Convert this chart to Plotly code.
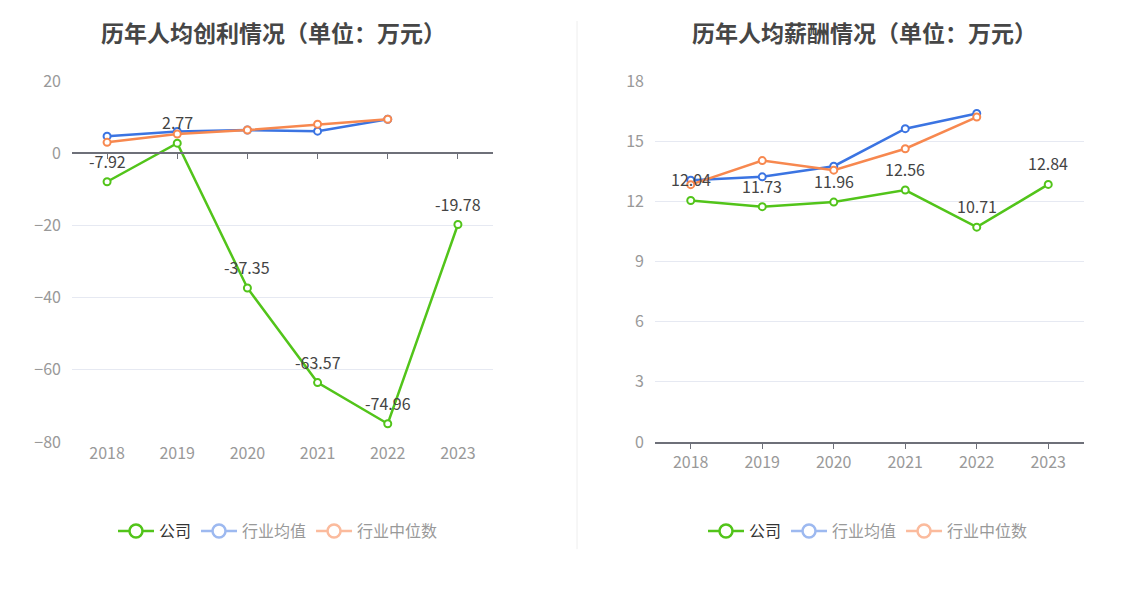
import plotly.graph_objects as go

years = ["2018", "2019", "2020", "2021", "2022", "2023"]

# 历年人均创利 (万元)
profit_company = [-7.92, 2.77, -37.35, -63.57, -74.96, -19.78]
profit_ind_avg = [4.7, 6.0, 6.4, 6.1, 9.4, None]
profit_ind_median = [3.0, 5.3, 6.4, 8.0, 9.4, None]

# 历年人均薪酬 (万元)
salary_company = [12.04, 11.73, 11.96, 12.56, 10.71, 12.84]
salary_ind_avg = [13.05, 13.22, 13.75, 15.62, 16.38, None]
salary_ind_median = [12.83, 14.03, 13.55, 14.62, 16.2, None]

GREEN = "#52c41a"
BLUE = "#3b74e2"
ORANGE = "#f7884f"
FONT = "Noto Sans CJK SC, Noto Sans, sans-serif"

# figure size; the page shows it shifted a bit and slightly squeezed vertically
W, H = 1132, 573
X_OFF, Y_OFF, Y_K = 8, 21.2, 0.9556


def px(v):
    return (v - X_OFF) / W


def py(v):
    return 1 - ((v - Y_OFF) / Y_K) / H


fig = go.Figure()


def add_series(xa, ya, company, avg, median):
    fig.add_trace(go.Scatter(
        x=years, y=avg, xaxis=xa, yaxis=ya, mode="lines+markers",
        line=dict(color=BLUE, width=2.5),
        marker=dict(symbol="circle", size=7, color="white", line=dict(color=BLUE, width=2)),
        showlegend=False, hoverinfo="skip"))
    fig.add_trace(go.Scatter(
        x=years, y=median, xaxis=xa, yaxis=ya, mode="lines+markers",
        line=dict(color=ORANGE, width=2.5),
        marker=dict(symbol="circle", size=7, color="white", line=dict(color=ORANGE, width=2)),
        showlegend=False, hoverinfo="skip"))
    fig.add_trace(go.Scatter(
        x=years, y=company, xaxis=xa, yaxis=ya, mode="lines+markers",
        line=dict(color=GREEN, width=2.5),
        marker=dict(symbol="circle", size=7, color="white", line=dict(color=GREEN, width=2)),
        showlegend=False, hoverinfo="skip"))
    # value labels above the company points (category index as x)
    for i, v in enumerate(company):
        fig.add_annotation(x=i, y=v, xref=xa, yref=ya, text=f"{v:.2f}",
                           showarrow=False, yanchor="bottom", yshift=7,
                           font=dict(size=16, color="#444444", family=FONT))


add_series("x", "y", profit_company, profit_ind_avg, profit_ind_median)
add_series("x2", "y2", salary_company, salary_ind_avg, salary_ind_median)

# legend entries (one legend per chart)
legend_items = [
    ("公司", GREEN, "#333333"),
    ("行业均值", "#9db9f0", "#999999"),
    ("行业中位数", "#fbbb9d", "#999999"),
]
for lg, xa, ya in [("legend", "x", "y"), ("legend2", "x2", "y2")]:
    for name, col, tcol in legend_items:
        fig.add_trace(go.Scatter(
            x=[None], y=[None], xaxis=xa, yaxis=ya, mode="lines+markers",
            name=f"<span style='color:{tcol}'>{name}</span>",
            line=dict(color=col, width=2.5),
            marker=dict(symbol="circle", size=13, color="white", line=dict(color=col, width=2.5)),
            legend=lg))

y_bot = py(441)
y_top = py(81)
zero_pos = y_bot + (0 - (-80)) / 100 * (y_top - y_bot)

tickfont = dict(size=16, color="#999999", family=FONT)
grid = "#e6e9f2"

fig.update_layout(
    width=W, height=H,
    margin=dict(l=0, r=0, t=0, b=0),
    paper_bgcolor="white", plot_bgcolor="white",
    font=dict(family=FONT),
    xaxis=dict(domain=[px(72), px(493)], anchor="y", type="category",
               range=[-0.5, 5.5], showline=False, ticks="", tickfont=tickfont,
               showgrid=False),
    yaxis=dict(domain=[y_bot, y_top], anchor="x", range=[-80, 20], dtick=20, showgrid=True,
               gridcolor=grid, gridwidth=1, zeroline=False, showline=False,
               tickfont=tickfont, ticklabelstandoff=10),
    xaxis3=dict(overlaying="x", anchor="free", position=zero_pos, type="category",
                matches="x", showline=True, linecolor="#6e7079", linewidth=1.5,
                ticks="outside", ticklen=5, tickcolor="#6e7079", showticklabels=False,
                showgrid=False),
    xaxis2=dict(domain=[px(655), px(1084)], anchor="y2", type="category",
                range=[-0.5, 5.5], showline=True, linecolor="#6e7079", linewidth=1.5,
                ticks="outside", ticklen=5, tickcolor="#6e7079", tickfont=tickfont,
                showgrid=False),
    yaxis2=dict(domain=[y_bot, y_top], anchor="x2", range=[0, 18], dtick=3, showgrid=True,
                gridcolor=grid, gridwidth=1, zeroline=False, showline=False,
                tickfont=tickfont, ticklabelstandoff=10),
    legend=dict(orientation="h", x=px(278), y=py(530), xanchor="center",
                yanchor="middle", font=dict(size=16, family=FONT), itemwidth=36,
                bgcolor="rgba(0,0,0,0)"),
    legend2=dict(orientation="h", x=px(868), y=py(530), xanchor="center",
                 yanchor="middle", font=dict(size=16, family=FONT), itemwidth=36,
                 bgcolor="rgba(0,0,0,0)"),
)

# dummy trace so xaxis3 is drawn
fig.add_trace(go.Scatter(x=years, y=[None] * 6, xaxis="x3", yaxis="y",
                         showlegend=False, hoverinfo="skip"))

for txt, xc in [("历年人均创利情况（单位：万元）", 273), ("历年人均薪酬情况（单位：万元）", 864)]:
    fig.add_annotation(text=f"<b>{txt}</b>", x=px(xc), y=1,
                       xref="paper", yref="paper", showarrow=False,
                       xanchor="center", yanchor="top", yshift=8,
                       font=dict(size=23, color="#464646", family=FONT))

fig.add_shape(type="line", xref="paper", yref="paper", x0=px(577), x1=px(577),
              y0=py(548), y1=1, line=dict(color="#eeeeee", width=1))

fig.write_html("out.html")
